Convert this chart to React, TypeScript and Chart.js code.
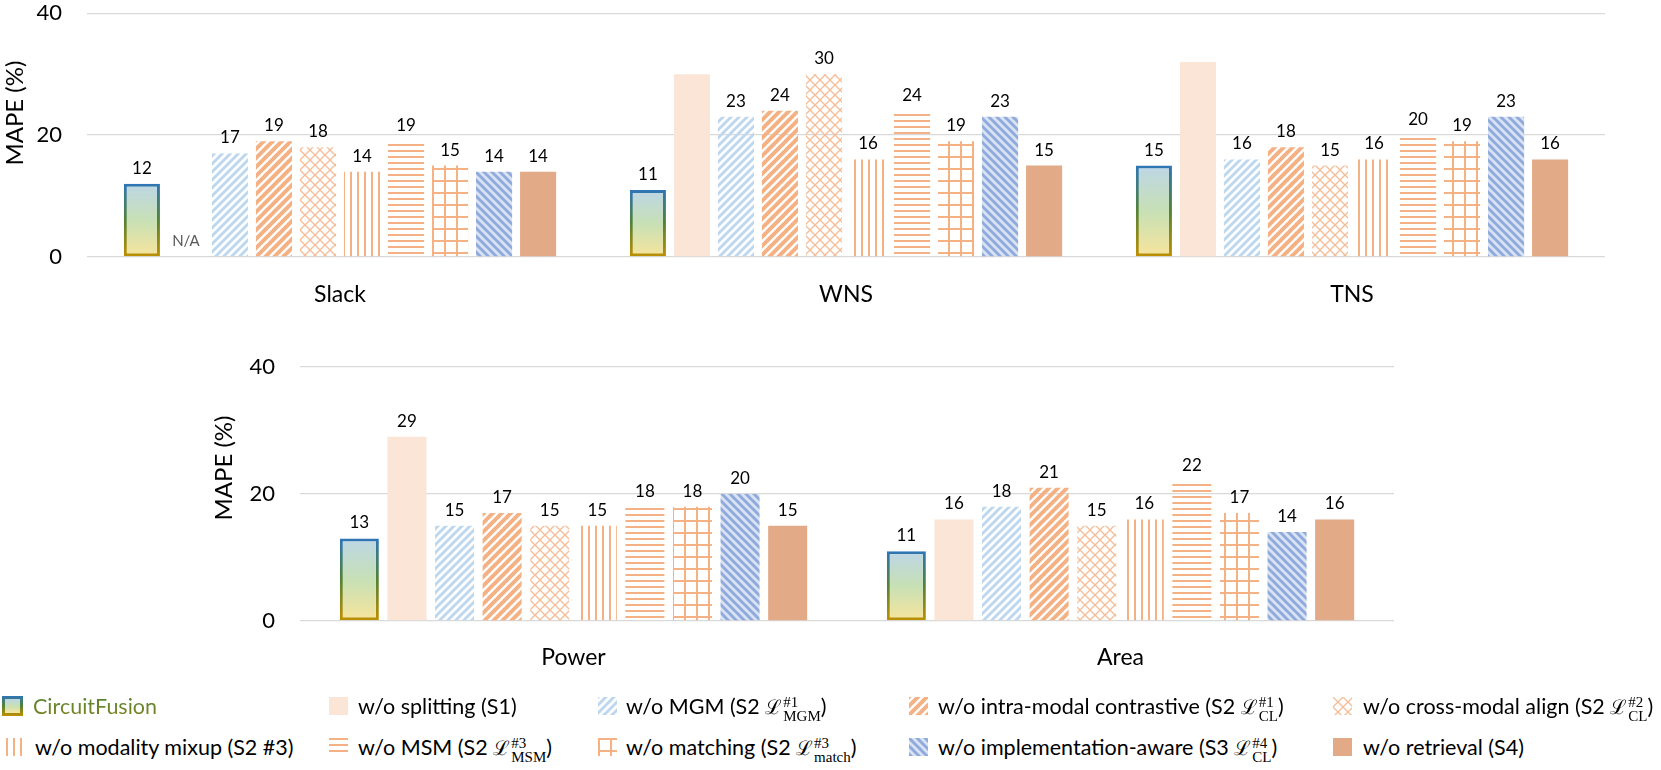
import React, { useEffect, useRef } from 'react';
import { Chart, registerables } from 'chart.js';

Chart.register(...registerables);

// ---------------- data ----------------
const SERIES_NAMES = [
  'CircuitFusion',
  'w/o splitting (S1)',
  'w/o MGM',
  'w/o intra-modal contrastive',
  'w/o cross-modal align',
  'w/o modality mixup',
  'w/o MSM',
  'w/o matching',
  'w/o implementation-aware',
  'w/o retrieval',
];

const TOP_CATEGORIES = ['Slack', 'WNS', 'TNS'];
const BOTTOM_CATEGORIES = ['Power', 'Area'];
const Y_TICKS = [0, 20, 40];
const Y_TITLE = 'MAPE (%)';
const MISSING_LABEL = 'N/A';

const CIRCUITFUSION_TOP = [12, 11, 15];
const SPLITTING_TOP = [null, 30, 32];
const MGM_TOP = [17, 23, 16];
const INTRA_TOP = [19, 24, 18];
const CROSS_TOP = [18, 30, 15];
const MIXUP_TOP = [14, 16, 16];
const MSM_TOP = [19, 24, 20];
const MATCHING_TOP = [15, 19, 19];
const IMPL_TOP = [14, 23, 23];
const RETRIEVAL_TOP = [14, 15, 16];

const CIRCUITFUSION_BOTTOM = [13, 11];
const SPLITTING_BOTTOM = [29, 16];
const MGM_BOTTOM = [15, 18];
const INTRA_BOTTOM = [17, 21];
const CROSS_BOTTOM = [15, 15];
const MIXUP_BOTTOM = [15, 16];
const MSM_BOTTOM = [18, 22];
const MATCHING_BOTTOM = [18, 17];
const IMPL_BOTTOM = [20, 14];
const RETRIEVAL_BOTTOM = [15, 16];

// series whose value labels are not printed in the top panel
const TOP_UNLABELLED_SERIES = [1];

const TOP_SERIES = [
  CIRCUITFUSION_TOP, SPLITTING_TOP, MGM_TOP, INTRA_TOP, CROSS_TOP,
  MIXUP_TOP, MSM_TOP, MATCHING_TOP, IMPL_TOP, RETRIEVAL_TOP,
];
const BOTTOM_SERIES = [
  CIRCUITFUSION_BOTTOM, SPLITTING_BOTTOM, MGM_BOTTOM, INTRA_BOTTOM, CROSS_BOTTOM,
  MIXUP_BOTTOM, MSM_BOTTOM, MATCHING_BOTTOM, IMPL_BOTTOM, RETRIEVAL_BOTTOM,
];

// legend texts: [plain] or [before, superscript, subscript, after] around a script L
const LEGEND_LABELS: string[][] = [
  ['CircuitFusion'],
  ['w/o splitting (S1)'],
  ['w/o MGM (S2 ', '#1', 'MGM', ')'],
  ['w/o intra-modal contrastive (S2 ', '#1', 'CL', ')'],
  ['w/o cross-modal align (S2 ', '#2', 'CL', ')'],
  ['w/o modality mixup (S2 #3)'],
  ['w/o MSM (S2 ', '#3', 'MSM', ')'],
  ['w/o matching (S2 ', '#3', 'match', ')'],
  ['w/o implementation-aware (S3 ', '#4', 'CL', ')'],
  ['w/o retrieval (S4)'],
];

// ---------------- styles ----------------
const FONT = "Lato, 'Open Sans', 'DejaVu Sans', sans-serif";
const CF_FILL_STOPS = ['#bdd6e6', '#c7e0b5', '#f8e59c'];
const CF_BORDER_STOPS = ['#2e75b6', '#548235', '#bf9000'];
const ORANGE = '#f4b183';

type Fill = string | CanvasPattern | CanvasGradient;

function makeTile(w: number, h: number, draw: (g: CanvasRenderingContext2D) => void) {
  const c = document.createElement('canvas');
  c.width = w;
  c.height = h;
  const g = c.getContext('2d')!;
  draw(g);
  return c;
}

function stripeTile(P: number, lw: number, fg: string, bg: string | null, up: boolean) {
  return makeTile(P, P, (g) => {
    if (bg) {
      g.fillStyle = bg;
      g.fillRect(0, 0, P, P);
    }
    g.strokeStyle = fg;
    g.lineWidth = lw;
    for (let k = -1; k <= 1; k++) {
      g.beginPath();
      if (up) {
        g.moveTo(k * P - 1, P + 1);
        g.lineTo(k * P + P + 1, -1);
      } else {
        g.moveTo(k * P - 1, -1);
        g.lineTo(k * P + P + 1, P + 1);
      }
      g.stroke();
    }
  });
}

function latticeTile(P: number, lw: number, fg: string) {
  return makeTile(P, P, (g) => {
    g.strokeStyle = fg;
    g.lineWidth = lw;
    for (let k = -1; k <= 1; k++) {
      g.beginPath();
      g.moveTo(k * P - 1, P + 1);
      g.lineTo(k * P + P + 1, -1);
      g.stroke();
      g.beginPath();
      g.moveTo(k * P - 1, -1);
      g.lineTo(k * P + P + 1, P + 1);
      g.stroke();
    }
  });
}

function toPattern(c: HTMLCanvasElement): CanvasPattern {
  return c.getContext('2d')!.createPattern(c, 'repeat')!;
}

function seriesFill(i: number): Fill {
  switch (i) {
    case 1:
      return '#fbe5d6';
    case 2:
      return toPattern(stripeTile(8, 3, '#bdd7ee', null, true));
    case 3:
      return toPattern(stripeTile(9, 4, ORANGE, null, true));
    case 4:
      return toPattern(latticeTile(10, 1.3, '#f6bd97'));
    case 5:
      return toPattern(makeTile(7, 4, (g) => { g.fillStyle = ORANGE; g.fillRect(0, 0, 2, 4); }));
    case 6:
      return toPattern(makeTile(4, 6, (g) => { g.fillStyle = ORANGE; g.fillRect(0, 0, 4, 2); }));
    case 7:
      return toPattern(makeTile(12, 12, (g) => {
        g.fillStyle = ORANGE;
        g.fillRect(0, 0, 2, 12);
        g.fillRect(0, 0, 12, 2);
      }));
    case 8:
      return toPattern(stripeTile(8, 3, '#8faadc', '#dae3f3', false));
    default:
      return '#e2aa87';
  }
}

function vGradient(ctx: CanvasRenderingContext2D, top: number, bottom: number, stops: string[]) {
  const g = ctx.createLinearGradient(0, top, 0, bottom);
  stops.forEach((s, k) => g.addColorStop(k / (stops.length - 1), s));
  return g;
}

const cfScript = (stops: string[]) => (c: any) => {
  const chart = c.chart;
  const ys = chart && chart.scales && chart.scales.y;
  if (!ys || c.type !== 'data' || c.raw == null) return stops[1];
  const top = ys.getPixelForValue(c.raw);
  const bottom = ys.getPixelForValue(0);
  if (!isFinite(top) || !isFinite(bottom)) return stops[1];
  return vGradient(chart.ctx, top, bottom, stops);
};

// ---------------- plugins ----------------
const valueLabels = {
  id: 'valueLabels',
  afterDatasetsDraw(chart: any, _args: any, opts: any) {
    const { ctx } = chart;
    const ys = chart.scales.y;
    ctx.save();
    ctx.textAlign = 'center';
    ctx.textBaseline = 'alphabetic';
    chart.data.datasets.forEach((ds: any, di: number) => {
      const meta = chart.getDatasetMeta(di);
      meta.data.forEach((el: any, i: number) => {
        const v = ds.data[i];
        if (v == null) {
          ctx.font = `15px ${FONT}`;
          ctx.fillStyle = '#595959';
          ctx.fillText(MISSING_LABEL, el.x, ys.getPixelForValue(0) - 11);
          return;
        }
        if ((opts.hidden || []).includes(di)) return;
        ctx.font = `17px ${FONT}`;
        ctx.fillStyle = '#000';
        ctx.fillText(String(v), el.x, el.y - 10);
      });
    });
    ctx.restore();
  },
};

const axisTitle = {
  id: 'axisTitle',
  afterDraw(chart: any, _args: any, opts: any) {
    const { ctx, chartArea } = chart;
    ctx.save();
    ctx.translate(opts.x, (chartArea.top + chartArea.bottom) / 2 + opts.dy);
    ctx.rotate(-Math.PI / 2);
    ctx.font = `24px ${FONT}`;
    ctx.fillStyle = '#000';
    ctx.textAlign = 'center';
    ctx.textBaseline = 'middle';
    ctx.fillText(opts.text, 0, 0);
    ctx.restore();
  },
};

type PanelLayout = {
  top: number;
  height: number;
  padLeft: number;
  padTop: number;
  padRight: number;
  yWidth: number;
  xHeight: number;
  xPad: number;
  titleX: number;
  titleDy: number;
};

const TOP_LAYOUT: PanelLayout = {
  top: 0, height: 330, padLeft: 0, padTop: 12, padRight: 56, yWidth: 87, xHeight: 73, xPad: 24, titleX: 15, titleDy: -22,
};
const BOTTOM_LAYOUT: PanelLayout = {
  top: 340, height: 360, padLeft: 213, padTop: 27, padRight: 267, yWidth: 87, xHeight: 79, xPad: 23, titleX: 224, titleDy: -26,
};

function makeConfig(categories: string[], series: (number | null)[][], fills: Fill[], L: PanelLayout, hidden: number[]): any {
  return {
    type: 'bar',
    data: {
      labels: categories,
      datasets: SERIES_NAMES.map((name, i) => ({
        label: name,
        data: series[i],
        backgroundColor: i === 0 ? cfScript(CF_FILL_STOPS) : fills[i],
        borderColor: i === 0 ? cfScript(CF_BORDER_STOPS) : 'rgba(0,0,0,0)',
        borderWidth: i === 0 ? 3 : 0,
        borderSkipped: false,
      })),
    },
    options: {
      responsive: false,
      animation: false,
      devicePixelRatio: 1,
      layout: { padding: { left: L.padLeft, top: L.padTop, right: L.padRight, bottom: 0 } },
      datasets: { bar: { categoryPercentage: 0.87, barPercentage: 0.82 } },
      plugins: {
        legend: { display: false },
        tooltip: { enabled: false },
        valueLabels: { hidden },
        axisTitle: { text: Y_TITLE, x: L.titleX, dy: L.titleDy },
      },
      scales: {
        x: {
          grid: { display: false, drawTicks: false },
          border: { display: false },
          ticks: { font: { family: FONT, size: 23 }, color: '#000', padding: L.xPad },
          afterFit: (s: any) => { s.height = L.xHeight; },
        },
        y: {
          min: Y_TICKS[0],
          max: Y_TICKS[Y_TICKS.length - 1],
          afterBuildTicks: (s: any) => { s.ticks = Y_TICKS.map((v) => ({ value: v })); },
          ticks: { font: { family: FONT, size: 22 }, color: '#000', padding: 0 },
          grid: { color: '#d9d9d9', lineWidth: 1.3, drawTicks: true, tickLength: 25, tickColor: 'rgba(0,0,0,0)' },
          border: { display: false },
          afterFit: (s: any) => { s.width = L.yWidth; },
        },
      },
    },
    plugins: [valueLabels, axisTitle],
  };
}

// ---------------- legend ----------------
const LEGEND_ROW_CENTER = [706, 747];
const LEGEND_TEXT_X = [[33, 358, 626, 938, 1363], [35, 358, 626, 938, 1363]];
const LEGEND_SWATCH_X = [[2, 329, 598, 909, 1333], [6, 329, 598, 909, 1333]];

function Swatch({ index, left, top, w, h }: { index: number; left: number; top: number; w: number; h: number }) {
  const ref = useRef<HTMLCanvasElement>(null);
  useEffect(() => {
    const c = ref.current;
    if (!c) return;
    const g = c.getContext('2d')!;
    g.clearRect(0, 0, w, h);
    if (index === 0) {
      const bw = 3;
      g.fillStyle = vGradient(g, 0, h, CF_BORDER_STOPS);
      g.fillRect(0, 0, w, h);
      g.fillStyle = vGradient(g, bw, h - bw, CF_FILL_STOPS);
      g.fillRect(bw, bw, w - 2 * bw, h - 2 * bw);
    } else {
      g.fillStyle = seriesFill(index) as any;
      g.fillRect(0, 0, w, h);
    }
  }, [index, w, h]);
  return <canvas ref={ref} width={w} height={h} style={{ position: 'absolute', left, top, width: w, height: h }} />;
}

function LegendText({ parts }: { parts: string[] }) {
  if (parts.length === 1) return <>{parts[0]}</>;
  const [pre, sup, sub, post] = parts;
  return (
    <>
      {pre}
      <span style={{ fontFamily: "'DejaVu Serif', 'Liberation Serif', serif", fontSize: '20px' }}>ℒ</span>
      <span
        style={{
          display: 'inline-flex',
          flexDirection: 'column',
          verticalAlign: 'middle',
          fontFamily: "'Liberation Serif', 'DejaVu Serif', serif",
          fontSize: '15px',
          lineHeight: '14px',
          marginLeft: 1,
        }}
      >
        <span>{sup}</span>
        <span>{sub}</span>
      </span>
      {post}
    </>
  );
}

export default function App() {
  const topRef = useRef<HTMLCanvasElement>(null);
  const botRef = useRef<HTMLCanvasElement>(null);

  useEffect(() => {
    const fills = SERIES_NAMES.map((_, i) => seriesFill(i));
    const top = new Chart(topRef.current!, makeConfig(TOP_CATEGORIES, TOP_SERIES, fills, TOP_LAYOUT, TOP_UNLABELLED_SERIES));
    const bot = new Chart(botRef.current!, makeConfig(BOTTOM_CATEGORIES, BOTTOM_SERIES, fills, BOTTOM_LAYOUT, []));
    return () => {
      top.destroy();
      bot.destroy();
    };
  }, []);

  return (
    <div style={{ position: 'absolute', left: 0, top: 0, width: 1661, height: 770, background: '#fff', fontFamily: FONT, overflow: 'hidden' }}>
      <canvas ref={topRef} width={1661} height={TOP_LAYOUT.height} style={{ position: 'absolute', left: 0, top: TOP_LAYOUT.top, width: 1661, height: TOP_LAYOUT.height }} />
      <canvas ref={botRef} width={1661} height={BOTTOM_LAYOUT.height} style={{ position: 'absolute', left: 0, top: BOTTOM_LAYOUT.top, width: 1661, height: BOTTOM_LAYOUT.height }} />
      {LEGEND_LABELS.map((parts, i) => {
        const row = Math.floor(i / 5);
        const col = i % 5;
        const cy = LEGEND_ROW_CENTER[row];
        const w = i === 0 ? 21 : 19;
        const h = i === 0 ? 20 : 18;
        return (
          <React.Fragment key={i}>
            <Swatch index={i} left={LEGEND_SWATCH_X[row][col]} top={cy - h / 2} w={w} h={h} />
            <span
              style={{
                position: 'absolute',
                left: LEGEND_TEXT_X[row][col],
                top: cy - 14,
                height: 28,
                lineHeight: '28px',
                fontSize: '21.5px',
                whiteSpace: 'nowrap',
                color: '#000',
                ...(i === 0
                  ? {
                      background: 'linear-gradient(180deg, #4a7c34 0%, #66862a 50%, #857c14 100%)',
                      WebkitBackgroundClip: 'text',
                      backgroundClip: 'text',
                      color: 'transparent',
                    }
                  : {}),
              }}
            >
              <LegendText parts={parts} />
            </span>
          </React.Fragment>
        );
      })}
    </div>
  );
}
